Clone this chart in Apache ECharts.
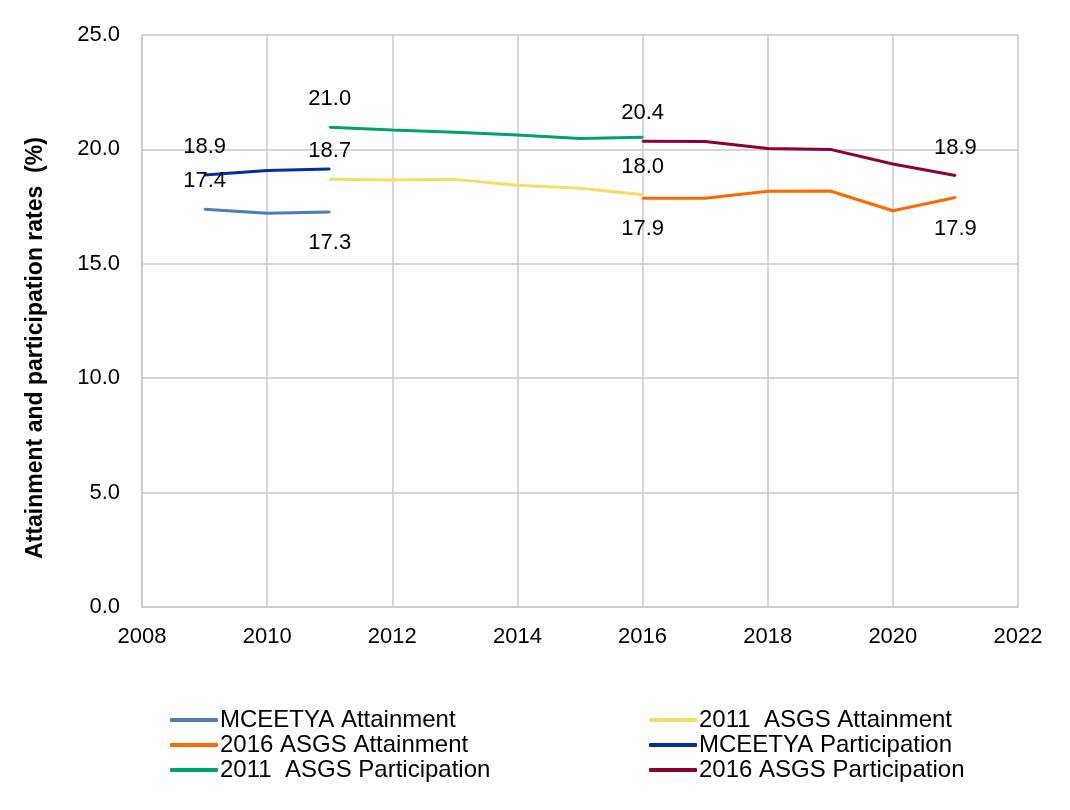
<!DOCTYPE html>
<html>
<head>
<meta charset="utf-8">
<title>Attainment and participation rates</title>
<script src="https://cdn.jsdelivr.net/npm/echarts@6/dist/echarts.min.js"></script>
<style>
  html, body { margin: 0; padding: 0; background: #ffffff; }
  #chart { width: 1070px; height: 810px; }
</style>
</head>
<body>
<div id="chart"></div>
<script>
// years on the x axis
const yearsMceetya = [2009, 2010, 2011];
const years2011 = [2011, 2012, 2013, 2014, 2015, 2016];
const years2016 = [2016, 2017, 2018, 2019, 2020, 2021];

// rates (%)
const mceetyaAttainment = [17.38, 17.21, 17.26];
const mceetyaParticipation = [18.88, 19.08, 19.14];
const asgs2011Attainment = [18.69, 18.66, 18.69, 18.43, 18.30, 18.02];
const asgs2011Participation = [20.97, 20.85, 20.75, 20.63, 20.48, 20.53];
const asgs2016Attainment = [17.86, 17.86, 18.17, 18.18, 17.32, 17.90];
const asgs2016Participation = [20.36, 20.35, 20.04, 20.00, 19.36, 18.86];

const yTicks = [0, 5, 10, 15, 20, 25];

// which points get a value label, and where
const labelled = {
  'MCEETYA Attainment': { 0: 'top', 2: 'bottom' },
  'MCEETYA Participation': { 0: 'top' },
  '2011  ASGS Attainment': { 0: 'top', 5: 'top' },
  '2011  ASGS Participation': { 0: 'top' },
  '2016 ASGS Attainment': { 0: 'bottom', 5: 'bottom' },
  '2016 ASGS Participation': { 0: 'top', 5: 'top' }
};

const font = 'Liberation Sans, Arial, sans-serif';

const chart = echarts.init(document.getElementById('chart'));

function makeSeries(name, xs, ys, color) {
  const spots = labelled[name] || {};
  return {
    name: name,
    type: 'line',
    symbol: 'circle',
    symbolSize: 2,
    showSymbol: true,
    lineStyle: { color: color, width: 3 },
    itemStyle: { color: color },
    z: 3,
    label: { show: false, color: '#000', fontSize: 22, fontFamily: font },
    data: ys.map(function (v, i) {
      const pt = { value: [xs[i], v] };
      if (spots[i]) {
        pt.label = {
          show: true,
          position: spots[i],
          distance: spots[i] === 'top' ? 16 : 19,
          color: '#000',
          fontSize: 22,
          fontFamily: font,
          formatter: function (p) { return p.value[1].toFixed(1); }
        };
      }
      return pt;
    })
  };
}

const legendBase = {
  top: 708,
  orient: 'vertical',
  padding: 0,
  icon: 'roundRect',
  itemWidth: 48,
  itemHeight: 4,
  itemGap: 1,
  textStyle: { color: '#000', fontSize: 24, fontFamily: font, padding: [0, 0, 0, -3] }
};

const option = {
  backgroundColor: '#ffffff',
  animation: false,
  textStyle: { fontFamily: font },
  grid: { left: 142, right: 52, top: 35, bottom: 203 },
  xAxis: {
    type: 'value',
    min: 2008,
    max: 2022,
    interval: 2,
    axisLine: { show: true, lineStyle: { color: '#c8c8c8', width: 1.5 } },
    axisTick: { show: false },
    axisLabel: {
      color: '#000', fontSize: 22, margin: 19, fontFamily: font,
      formatter: function (v) { return String(v); }
    },
    splitLine: { show: true, lineStyle: { color: '#c8c8c8', width: 1.5 } }
  },
  yAxis: {
    type: 'value',
    min: yTicks[0],
    max: yTicks[yTicks.length - 1],
    interval: 5,
    axisLine: { show: true, lineStyle: { color: '#c8c8c8', width: 1.5 } },
    axisTick: { show: false },
    axisLabel: {
      color: '#000', fontSize: 22, margin: 22, fontFamily: font,
      formatter: function (v) { return v.toFixed(1); }
    },
    splitLine: { show: true, lineStyle: { color: '#c8c8c8', width: 1.5 } }
  },
  graphic: [{
    type: 'text',
    x: 36,
    y: 348,
    rotation: Math.PI / 2,
    style: {
      text: 'Attainment and participation rates  (%)',
      font: 'bold 23px Liberation Sans, Arial, sans-serif',
      fill: '#000',
      align: 'center',
      verticalAlign: 'middle'
    }
  }],
  legend: [
    Object.assign({}, legendBase, {
      left: 170,
      data: ['MCEETYA Attainment', '2016 ASGS Attainment', '2011  ASGS Participation']
    }),
    Object.assign({}, legendBase, {
      left: 649,
      data: ['2011  ASGS Attainment', 'MCEETYA Participation', '2016 ASGS Participation']
    })
  ],
  series: [
    makeSeries('MCEETYA Attainment', yearsMceetya, mceetyaAttainment, '#4a7ebb'),
    makeSeries('2011  ASGS Attainment', years2011, asgs2011Attainment, '#ffd966'),
    makeSeries('2016 ASGS Attainment', years2016, asgs2016Attainment, '#ff6a00'),
    makeSeries('MCEETYA Participation', yearsMceetya, mceetyaParticipation, '#0030a0'),
    makeSeries('2011  ASGS Participation', years2011, asgs2011Participation, '#00a070'),
    makeSeries('2016 ASGS Participation', years2016, asgs2016Participation, '#8b0038')
  ]
};

chart.setOption(option);
</script>
</body>
</html>
